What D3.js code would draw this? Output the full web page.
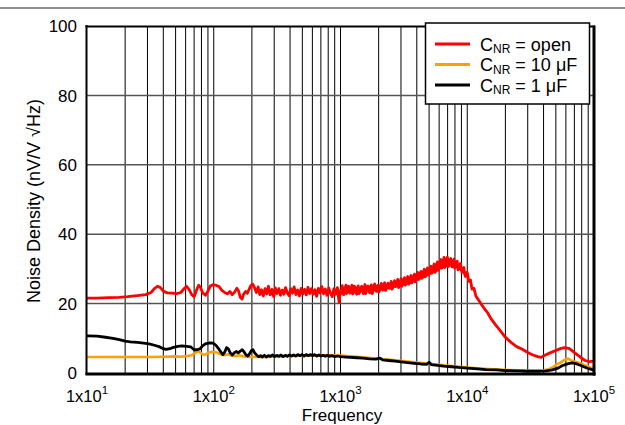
<!DOCTYPE html>
<html>
<head>
<meta charset="utf-8">
<script src="https://cdn.jsdelivr.net/npm/d3@7"></script>
<style>
  html, body { margin: 0; padding: 0; background: #fff; }
  svg { display: block; font-family: "Liberation Sans", Arial, sans-serif; }
</style>
</head>
<body>
<svg id="chart" width="625" height="425"></svg>
<script>
// Noise density vs frequency for three noise-reduction capacitor settings.
// Each series is a list of [frequency (Hz), noise density (nV/V √Hz)].

const seriesOpen = [
  [10,21.6],[12,21.6],[15,21.7],[18,21.8],[21,22.0],[25,22.3],[29,22.6],[32,23.2],[34,24.3],[36,25.0],
  [38,24.6],[40,23.6],[43,23.1],[47,23.0],[51,22.9],[55,23.2],[58,24.2],[61,25.0],[64,24.0],[67,22.6],
  [70,22.0],[73,23.8],[76,25.3],[79,24.5],[82,23.0],[86,22.4],[90,23.6],[94,25.1],[98,25.4],[104,25.3],
  [110,24.9],[116,23.8],[122,23.2],[128,22.8],[134,23.5],[140,22.6],[146,23.3],[152,24.4],[157,23.6],[162,21.8],
  [167,21.3],[172,22.7],[178,23.5],[184,23.0],[190,24.1],[196,25.2],[203,25.6],[210,24.5],[217,23.2],[224,24.8],
  [231,22.6],[238,24.0],[246,22.2],[254,24.3],[262,22.8],[270,25.0],[279,22.5],[288,24.1],[297,22.0],[306,24.5],
  [316,22.9],[326,24.3],[336,22.4],[347,23.9],[358,22.7],[369,24.6],[381,23.0],[393,22.3],[405,24.3],[418,23.0],
  [431,24.8],[445,22.6],[459,23.9],[474,22.2],[489,24.4],[504,22.8],[520,24.1],[537,22.5],[554,24.7],[572,22.9],
  [590,24.3],[609,22.7],[628,24.0],[648,22.1],[669,24.4],[690,23.1],[712,24.9],[735,22.8],[758,24.2],[782,22.4],
  [807,24.5],[833,23.0],[860,22.0],[887,24.3],[915,22.7],[945,24.6],[975,20.4],
  [1000,23.8],[1015,22.9],[1030,25.2],[1045,24.1],[1060,22.6],[1075,23.5],[1090,24.6],[1105,25.3],[1120,22.9],[1140,23.6],
  [1160,25.0],[1175,24.2],[1190,23.0],[1210,24.0],[1230,25.3],[1250,22.8],[1270,23.2],[1285,25.0],[1300,24.8],[1320,23.6],
  [1340,22.7],[1360,24.2],[1380,25.1],[1400,22.9],[1420,23.3],[1445,24.3],[1470,25.0],[1490,23.8],[1510,22.9],[1535,24.4],
  [1560,25.5],[1580,22.9],[1600,23.5],[1625,24.6],[1650,25.1],[1675,24.0],[1700,23.1],[1725,24.6],[1750,25.4],[1780,22.9],
  [1810,23.7],[1835,24.8],[1860,25.7],[1890,24.3],[1920,23.5],[1950,24.9],[1980,25.3],[2010,23.4],[2040,23.8],[2070,24.9],
  [2100,25.8],[2130,24.4],[2160,23.9],[2195,25.3],[2230,26.0],[2265,23.8],[2300,24.2],[2335,25.2],[2370,25.9],[2405,24.6],
  [2440,24.4],[2475,25.3],[2510,26.4],[2550,24.2],[2590,24.7],[2630,25.8],[2670,26.6],[2710,24.9],[2750,25.0],[2790,26.1],
  [2830,27.0],[2875,24.6],[2920,25.2],[2965,26.3],[3010,27.2],[3055,25.0],[3100,25.5],[3150,26.7],[3200,27.5],[3245,25.3],
  [3290,25.8],[3340,26.9],[3390,27.8],[3445,25.6],[3500,26.0],[3550,27.3],[3600,28.1],[3655,26.0],[3710,26.5],[3770,27.7],
  [3830,28.5],[3885,26.3],[3940,26.8],[4000,28.2],[4060,29.0],[4125,26.9],[4190,27.2],[4250,28.6],[4310,29.3],[4380,27.3],
  [4450,27.6],[4515,29.1],[4580,29.9],[4650,27.7],[4720,28.0],[4790,29.6],[4860,30.3],[4935,28.2],[5010,28.5],[5085,30.0],
  [5160,30.8],[5240,28.7],[5320,29.0],[5400,30.6],[5480,31.4],[5565,29.0],[5650,29.4],[5735,31.2],[5820,32.0],[5910,29.6],
  [6000,30.0],[6090,31.9],[6180,32.7],[6275,30.2],[6370,30.6],[6465,32.4],[6560,33.3],[6660,30.4],[6760,30.9],[6865,32.6],
  [6970,33.4],[7075,30.7],[7180,31.1],[7290,32.5],[7400,33.0],[7510,30.9],[7620,30.6],[7735,32.0],[7850,32.8],[7970,30.2],
  [8090,30.5],[8215,31.8],[8340,32.2],[8465,29.7],[8590,30.0],[8720,31.2],[8850,31.6],[8985,29.6],[9120,29.0],[9260,30.1],
  [9400,30.4],[9545,28.4],[9690,27.8],[9835,28.9],[9980,29.0],
  [10300,26.4],[10600,26.8],[10900,24.2],[11300,24.4],[11700,22.2],
  [12200,21.2],[12800,20.0],[13500,18.8],[14400,17.5],[15500,15.5],[16800,13.8],[18200,12.2],[20000,10.3],[22000,8.9],[24500,7.6],
  [27000,6.9],[30000,5.9],[33000,5.2],[36000,4.7],[38000,4.5],[41000,5.1],[45000,5.8],[50000,6.5],[55000,7.1],[59000,7.3],
  [64000,7.0],[69000,6.1],[74000,5.2],[79000,4.4],[85000,3.6],[92000,3.3],[100000,3.4]
];

const series10uF = [
  [10,4.6],[15,4.6],[20,4.6],[30,4.6],[40,4.7],[50,4.8],[55,4.7],[62,4.9],[67,5.1],[72,5.9],
  [76,6.3],[80,5.6],[84,5.2],[88,5.5],[92,6.0],[98,6.1],[104,6.0],[110,5.6],[116,5.2],[122,5.1],
  [130,5.4],[140,5.0],[150,4.9],[160,5.1],[170,4.8],[180,4.7],[200,4.6],[220,4.7],[250,4.6],[300,4.7],
  [350,4.8],[400,4.9],[500,5.0],[600,5.0],[700,5.1],[800,5.1],[900,5.0],[1000,5.0],[1200,4.8],[1500,4.5],
  [2000,4.1],[2500,3.8],[3000,3.5],[4000,3.0],[5000,2.7],[6000,2.4],[8000,1.9],[10000,1.6],[13000,1.3],[16000,1.1],
  [20000,0.9],[25000,0.8],[30000,0.7],[35000,0.7],[40000,0.8],[44000,1.1],[48000,1.8],[51000,2.6],[54000,2.9],[57000,3.5],
  [60000,4.0],[63000,4.1],[66000,3.6],[70000,3.3],[75000,3.0],[80000,2.6],[87000,2.0],[95000,1.5],[100000,1.3]
];

const series1uF = [
  [10,10.7],[12,10.6],[14,10.3],[16,10.0],[18,9.6],[20,9.2],[22,9.0],[25,8.8],[28,8.6],[31,8.4],
  [34,8.0],[37,7.6],[40,7.0],[42,6.8],[45,7.0],[48,7.4],[52,7.7],[56,7.8],[61,7.7],[66,7.5],
  [70,6.7],[74,6.7],[78,7.0],[82,7.9],[87,8.5],[93,8.7],[99,8.6],[104,8.0],[109,7.0],[114,6.0],
  [118,5.3],[122,6.0],[126,7.3],[130,7.0],[135,5.8],[140,5.2],[146,5.9],[151,6.2],[156,5.8],[162,6.3],
  [168,6.7],[174,6.0],[180,5.2],[186,4.9],[192,5.6],[198,6.4],[204,6.7],[210,5.8],[218,5.2],[226,4.7],
  [234,5.0],[242,4.6],[251,5.1],[260,4.6],[270,5.0],[280,4.8],[291,5.2],[302,4.7],[314,5.1],[326,4.8],
  [339,5.2],[352,4.7],[366,5.1],[380,4.8],[395,5.2],[410,4.9],[426,5.2],[443,4.9],[460,5.3],[478,5.0],
  [497,5.3],[516,4.9],[536,5.3],[557,5.0],[579,5.3],[602,5.0],[625,5.3],[650,4.9],[675,5.2],[702,4.9],
  [730,5.1],[760,4.8],[790,5.1],[820,4.8],[850,5.0],[900,4.7],[950,4.9],[1000,4.7],[1100,4.6],[1200,4.5],
  [1350,4.4],[1500,4.3],[1700,4.1],[1900,4.0],[2050,4.3],[2150,3.8],[2400,3.6],[2700,3.4],[3000,3.2],[3400,3.0],
  [3800,2.8],[4300,2.6],[4800,2.5],[5000,3.1],[5200,2.4],[5800,2.2],[6500,2.0],[7500,1.8],[8500,1.6],[10000,1.4],
  [12000,1.2],[14000,1.0],[17000,0.9],[20000,0.7],[25000,0.6],[30000,0.5],[36000,0.5],[42000,0.6],[47000,0.9],[52000,1.4],
  [56000,2.1],[60000,2.5],[64000,2.8],[68000,2.9],[72000,2.7],[77000,2.3],[83000,1.8],[90000,1.3],[100000,0.8]
];

const yTicks = [0, 20, 40, 60, 80, 100];
const decadeTicks = [10, 100, 1000, 10000, 100000];
const decadeExponents = ["1", "2", "3", "4", "5"];
const legendLabels = [" = open", " = 10 μF", " = 1 μF"];

const svg = d3.select("#chart");
const plot = { left: 87, right: 594, top: 26, bottom: 373 };

const x = d3.scaleLog().domain([10, 100000]).range([plot.left, plot.right]);
const y = d3.scaleLinear().domain([0, 100]).range([plot.bottom, plot.top]);

// rule across the top of the page
svg.append("line")
  .attr("x1", 0).attr("x2", 625).attr("y1", 8).attr("y2", 8)
  .attr("stroke", "#6b6b6b").attr("stroke-width", 1.5);

svg.append("defs").append("clipPath").attr("id", "plotClip")
  .append("rect")
  .attr("x", plot.left).attr("y", plot.top)
  .attr("width", plot.right - plot.left).attr("height", plot.bottom - plot.top);

// vertical grid: every 1..9 x 10^n
const minorTicks = x.ticks().filter(v => v > 10 && v < 100000);
svg.append("g")
  .selectAll("line").data(minorTicks).join("line")
  .attr("x1", d => x(d)).attr("x2", d => x(d))
  .attr("y1", plot.top).attr("y2", plot.bottom)
  .attr("stroke", "#000").attr("stroke-width", 1);

// horizontal grid
svg.append("g")
  .selectAll("line").data(yTicks.filter(v => v > 0 && v < 100)).join("line")
  .attr("x1", plot.left).attr("x2", plot.right)
  .attr("y1", d => y(d)).attr("y2", d => y(d))
  .attr("stroke", "#555").attr("stroke-width", 1.5);

const line = d3.line().x(d => x(d[0])).y(d => y(d[1]));

const traces = svg.append("g").attr("clip-path", "url(#plotClip)");
traces.append("path").datum(series10uF)
  .attr("d", line).attr("fill", "none")
  .attr("stroke", "#ffa000").attr("stroke-width", 2.6).attr("stroke-linejoin", "round");
traces.append("path").datum(series1uF)
  .attr("d", line).attr("fill", "none")
  .attr("stroke", "#000").attr("stroke-width", 2.8).attr("stroke-linejoin", "round");
traces.append("path").datum(seriesOpen)
  .attr("d", line).attr("fill", "none")
  .attr("stroke", "#ff0000").attr("stroke-width", 2.8).attr("stroke-linejoin", "round");

// plot frame: heavier on the right and bottom
svg.append("line").attr("x1", plot.left - 0.5).attr("x2", plot.left - 0.5)
  .attr("y1", plot.top - 1).attr("y2", plot.bottom + 2)
  .attr("stroke", "#000").attr("stroke-width", 2);
svg.append("line").attr("x1", plot.left - 1.5).attr("x2", plot.right + 1)
  .attr("y1", plot.top + 0.5).attr("y2", plot.top + 0.5)
  .attr("stroke", "#000").attr("stroke-width", 2);
svg.append("line").attr("x1", plot.right).attr("x2", plot.right)
  .attr("y1", plot.top - 0.5).attr("y2", plot.bottom + 2.5)
  .attr("stroke", "#000").attr("stroke-width", 3);
svg.append("line").attr("x1", plot.left - 1.5).attr("x2", plot.right + 1.5)
  .attr("y1", plot.bottom + 1).attr("y2", plot.bottom + 1)
  .attr("stroke", "#000").attr("stroke-width", 3);

// y tick labels
svg.append("g")
  .selectAll("text").data(yTicks).join("text")
  .attr("x", 77).attr("y", d => y(d)).attr("dy", "0.36em")
  .attr("text-anchor", "end").attr("font-size", 17).attr("fill", "#000")
  .text(d => d);

// x tick labels: 1x10^n
const xl = svg.append("g")
  .selectAll("text").data(decadeTicks).join("text")
  .attr("x", d => x(d)).attr("y", 402)
  .attr("text-anchor", "middle").attr("font-size", 16.5).attr("fill", "#000");
xl.append("tspan").text("1x10");
xl.append("tspan").attr("dy", -8).attr("font-size", 11.5)
  .text((d, i) => decadeExponents[i]);

// axis titles
svg.append("text")
  .attr("x", 342).attr("y", 421)
  .attr("text-anchor", "middle").attr("font-size", 17).attr("fill", "#000")
  .text("Frequency");
svg.append("text")
  .attr("transform", "translate(40,201) rotate(-90)")
  .attr("text-anchor", "middle").attr("font-size", 18).attr("fill", "#000")
  .text("Noise Density (nV/V √Hz)");

// legend
const legendColors = ["#ff0000", "#ffa000", "#000"];
const legend = svg.append("g");
legend.append("rect")
  .attr("x", 425.5).attr("y", 23).attr("width", 164).attr("height", 81)
  .attr("fill", "#fff").attr("stroke", "#000").attr("stroke-width", 1.5);
const rows = legend.selectAll("g.row").data(legendLabels).join("g")
  .attr("class", "row")
  .attr("transform", (d, i) => `translate(0,${44 + i * 20.5})`);
rows.append("line")
  .attr("x1", 435).attr("x2", 470).attr("y1", 0).attr("y2", 0)
  .attr("stroke", (d, i) => legendColors[i]).attr("stroke-width", 2.8);
const lt = rows.append("text")
  .attr("x", 480).attr("y", 6.5)
  .attr("font-size", 18).attr("fill", "#000");
lt.append("tspan").text("C");
lt.append("tspan").attr("dy", 2.5).attr("font-size", 12).text("NR");
lt.append("tspan").attr("dy", -2.5).text(d => d);
</script>
</body>
</html>
